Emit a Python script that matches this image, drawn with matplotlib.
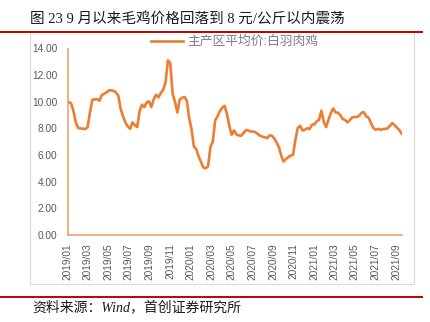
import matplotlib
matplotlib.use('Agg')
import matplotlib.pyplot as plt
import matplotlib.dates as mdates
from matplotlib.ticker import FormatStrFormatter
from matplotlib.patches import Rectangle
from matplotlib.lines import Line2D
import pandas as pd

plt.rcParams['font.family'] = ['Liberation Sans', 'Noto Sans CJK SC']

# 主产区平均价:白羽肉鸡, weekly, 元/公斤
start_date = '2019-01-04'
prices = [
    9.96, 9.90, 9.30, 8.45, 8.03, 8.00, 7.98, 7.95, 8.10, 9.20,
    10.15, 10.18, 10.20, 10.08, 10.50, 10.60, 10.70, 10.86, 10.86, 10.82,
    10.70, 10.45, 9.45, 8.90, 8.45, 8.15, 7.97, 8.45, 8.25, 8.10,
    9.30, 9.78, 9.60, 9.95, 10.03, 9.60, 10.20, 10.53, 10.33, 10.66,
    10.90, 11.46, 13.10, 12.92, 10.60, 10.00, 9.20, 10.16, 10.30, 10.36,
    10.10, 8.78, 7.95, 6.64, 6.45, 5.90, 5.50, 5.06, 5.02, 5.15,
    6.60, 7.00, 8.60, 8.90, 9.30, 9.55, 9.70, 9.10, 8.20, 7.52,
    7.85, 7.55, 7.48, 7.45, 7.65, 7.88, 7.85, 7.77, 7.77, 7.72,
    7.60, 7.45, 7.38, 7.33, 7.27, 7.48, 7.45, 7.27, 6.95, 6.60,
    5.95, 5.52, 5.70, 5.85, 5.96, 6.02, 7.15, 8.05, 8.20, 7.85,
    7.90, 8.02, 7.95, 8.28, 8.30, 8.53, 8.65, 9.33, 8.50, 8.10,
    8.65, 9.15, 9.50, 9.20, 9.18, 9.00, 8.70, 8.65, 8.45, 8.62,
    8.82, 8.86, 8.86, 8.95, 9.18, 9.22, 8.90, 8.80, 8.40, 8.03,
    7.90, 7.97, 7.90, 7.95, 7.97, 8.00, 8.20, 8.40, 8.25, 8.05,
    7.88, 7.60,
]
dates = pd.date_range(start_date, periods=len(prices), freq='7D')

series_name = '主产区平均价:白羽肉鸡'
title = '图 23 9 月以来毛鸡价格回落到 8 元/公斤以内震荡'
source = '资料来源：Wind，首创证券研究所'
y_ticks = [0, 2, 4, 6, 8, 10, 12, 14]

W, H = 431, 322
fig = plt.figure(figsize=(W / 100, H / 100), dpi=100)

# chart frame and red rules
fig.add_artist(Rectangle((30 / W, 1 - 284 / H), (414 - 30) / W, (284 - 32) / H,
                         transform=fig.transFigure, fill=False, ec='#D9D9D9', lw=0.8))
fig.add_artist(Line2D([0, 422 / W], [1 - 31.5 / H] * 2, color='#C00000', lw=1.4))
fig.add_artist(Line2D([0, 422 / W], [1 - 297 / H] * 2, color='#C00000', lw=1.4))

fig.text(30 / W, 1 - 19.5 / H, title, ha='left', va='center', fontsize=10.5,
         color='#1a1a1a', family=['Liberation Serif', 'Noto Sans CJK SC'])
fig.text(32 / W, 1 - 307.5 / H, source, ha='left', va='center', fontsize=10,
         color='#1a1a1a', style='italic', family=['Liberation Serif', 'Noto Sans CJK SC'])

ax = fig.add_axes([67.7 / W, 1 - 235 / H, (401.7 - 67.7) / W, (235 - 48.5) / H])
ax.plot(dates, prices, color='#ED7D31', lw=1.9, label=series_name)

ax.set_xlim(pd.Timestamp('2019-01-01'), dates[-1])
ax.set_ylim(0, 14)
ax.set_yticks(y_ticks)
ax.yaxis.set_major_formatter(FormatStrFormatter('%.2f'))
ax.xaxis.set_major_locator(mdates.MonthLocator(bymonth=[1, 3, 5, 7, 9, 11]))
ax.xaxis.set_major_formatter(mdates.DateFormatter('%Y/%m'))
plt.setp(ax.get_xticklabels(), rotation=90)
ax.tick_params(axis='both', length=0, labelsize=7.3, colors='#595959')
ax.tick_params(axis='y', pad=7.5)
ax.tick_params(axis='x', pad=6)

for s in ['top', 'right']:
    ax.spines[s].set_visible(False)
for s in ['left', 'bottom']:
    ax.spines[s].set_color('#F19A5E')
    ax.spines[s].set_linewidth(1.1)

ax.legend(loc='center', bbox_to_anchor=(0.5, 1.035), frameon=False, fontsize=9.2,
          handlelength=2.5, handletextpad=0.4, labelcolor='#7f7f7f')

fig.savefig('out.png', dpi=100)
